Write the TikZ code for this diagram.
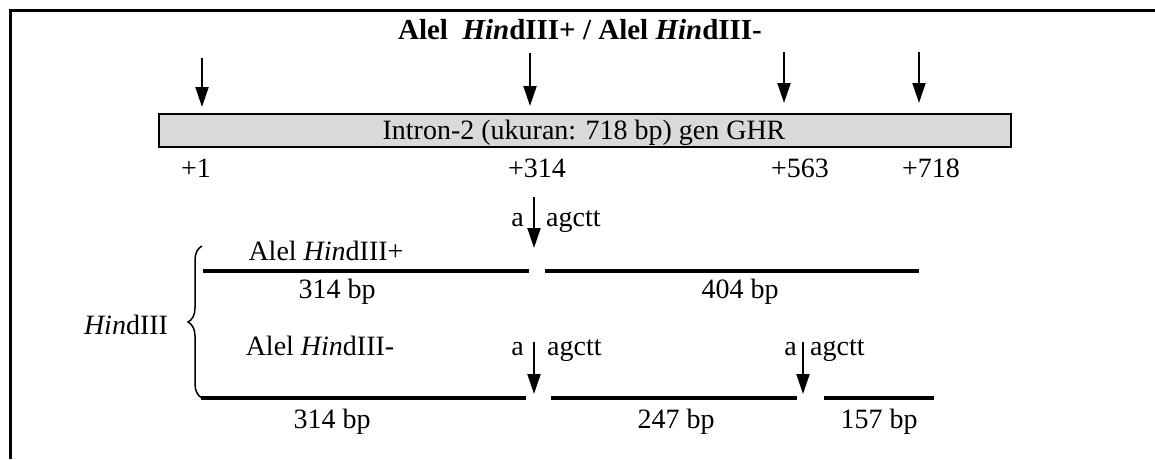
\documentclass[tikz,border=0pt]{standalone}
\usepackage{fontspec}
\setmainfont{Liberation Serif}
\usetikzlibrary{arrows.meta,decorations.pathreplacing}
\begin{document}
\begin{tikzpicture}[x=1pt,y=-1pt,
  font=\fontsize{28}{32}\selectfont,
  txt/.style={inner sep=0pt, anchor=base},
  cutarrow/.style={line width=2pt, -{Triangle[width=13pt,length=20pt]}},
  frag/.style={line width=4pt},
  framebox/.style={line width=3pt}]
\useasboundingbox (0,0) rectangle (1155,459);
\draw[framebox] (10,459) -- (10,10) -- (1155,10);

% title
\node[txt, font=\fontsize{29}{32}\selectfont\bfseries] (title) at (580,39)
  {Alel\ \ \textit{Hin}dIII+ / Alel \textit{Hin}dIII-};

% intron box
\node[draw, line width=2pt, fill=gray!30, minimum width=852pt, minimum height=33pt,
  inner sep=0pt, anchor=north west] (intron) at (158,113) {};
\node[txt] (introntxt) at (584,139) {Intron-2 (ukuran: 718 bp) gen GHR};

% top arrows
\coordinate (t1s) at (202,58);  \coordinate (t1e) at (202,107);
\coordinate (t2s) at (530,53);  \coordinate (t2e) at (530,106);
\coordinate (t3s) at (784,52);  \coordinate (t3e) at (784,103);
\coordinate (t4s) at (919,52);  \coordinate (t4e) at (919,103);
\draw[cutarrow] (t1s) -- (t1e);
\draw[cutarrow] (t2s) -- (t2e);
\draw[cutarrow] (t3s) -- (t3e);
\draw[cutarrow] (t4s) -- (t4e);

% positions
\node[txt] (p1) at (196,177) {+1};
\node[txt] (p314) at (537,177) {+314};
\node[txt] (p563) at (800,177) {+563};
\node[txt] (p718) at (931,177) {+718};

% HindIII+ allele
\node[txt, anchor=base east] (a1) at (524,226) {a};
\node[txt, anchor=base west] (g1) at (546,226) {agctt};
\coordinate (c1s) at (534,197); \coordinate (c1e) at (534,248);
\draw[cutarrow] (c1s) -- (c1e);
\node[txt] (alelplus) at (326,260) {Alel \textit{Hin}dIII+};
\coordinate (f1a) at (203,271); \coordinate (f1b) at (529,271);
\coordinate (f2a) at (545,271); \coordinate (f2b) at (919,271);
\draw[frag] (f1a) -- (f1b);
\draw[frag] (f2a) -- (f2b);
\node[txt] (b314a) at (337,298) {314 bp};
\node[txt] (b404) at (740,298) {404 bp};

% brace
\coordinate (brb) at (202,398); \coordinate (brt) at (202,246);
\draw[line width=1.5pt, decorate, decoration={brace, amplitude=14pt, aspect=0.5}]
  (brb) -- (brt);
\node[txt] (hind) at (126,334) {\textit{Hin}dIII};

% HindIII- allele
\node[txt] (alelminus) at (320,355) {Alel \textit{Hin}dIII-};
\node[txt, anchor=base east] (a2) at (524,355) {a};
\node[txt, anchor=base west] (g2) at (547,355) {agctt};
\coordinate (c2s) at (534,342); \coordinate (c2e) at (534,394);
\draw[cutarrow] (c2s) -- (c2e);
\node[txt, anchor=base east] (a3) at (797,355) {a};
\node[txt, anchor=base west] (g3) at (810,355) {agctt};
\coordinate (c3s) at (803,342); \coordinate (c3e) at (803,394);
\draw[cutarrow] (c3s) -- (c3e);
\coordinate (h1a) at (201,398); \coordinate (h1b) at (526,398);
\coordinate (h2a) at (551,398); \coordinate (h2b) at (797,398);
\coordinate (h3a) at (824,398); \coordinate (h3b) at (934,398);
\draw[frag] (h1a) -- (h1b);
\draw[frag] (h2a) -- (h2b);
\draw[frag] (h3a) -- (h3b);
\node[txt] (b314b) at (332,428) {314 bp};
\node[txt] (b247) at (676,428) {247 bp};
\node[txt] (b157) at (879,428) {157 bp};
\end{tikzpicture}
\end{document}
